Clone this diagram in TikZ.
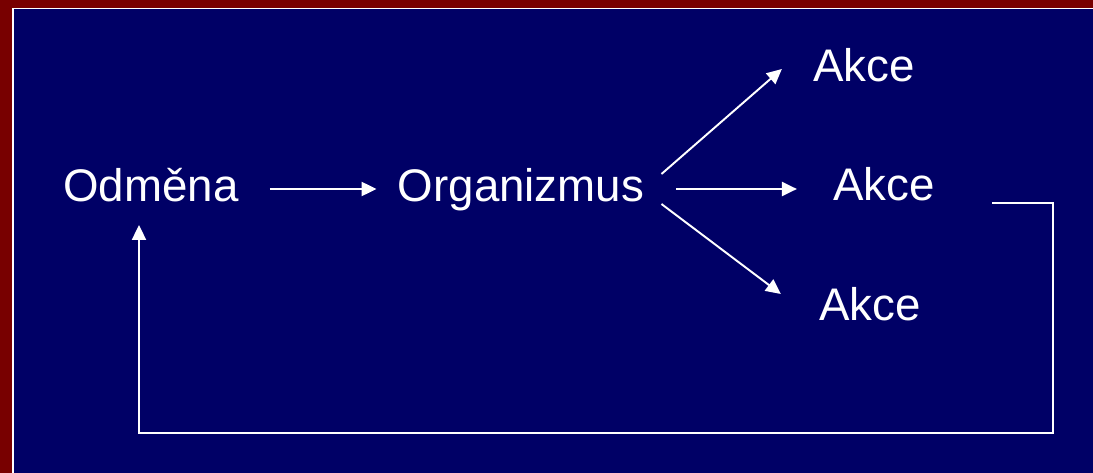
\documentclass[tikz,border=0pt]{standalone}
\usepackage{fontspec}
\setmainfont{Liberation Sans}
\usetikzlibrary{arrows.meta,calc}
\definecolor{slidered}{HTML}{780000}
\definecolor{slidenavy}{HTML}{000066}
\tikzset{
  word/.style={text=white,anchor=base,inner sep=0pt,font=\fontsize{26}{31}\selectfont},
  arr/.style={draw=white,line width=1.1pt,-{Triangle[length=8.5pt,width=8pt]}}
}
\begin{document}
\begin{tikzpicture}[x=0.02cm,y=-0.02cm]
        %%%%%%%%%% Sfondo %%%%%%%%%%
        \useasboundingbox (0,0) rectangle (1093,473);
        \fill[slidered] (0,0) rectangle (1093,473);
        \fill[white] (12.3,7.7) rectangle (1093,473);
        \fill[slidenavy] (14.3,9.5) rectangle (1093,473);

        %%%%%%%%%% Nodi %%%%%%%%%%
        \node[word] (odmena) at (151,202) {Odměna};
        \node[word] (organizmus) at (521,202) {Organizmus};
        \node[word] (akceA) at (864,82) {Akce};
        \node[word] (akceB) at (884,200) {Akce};
        \node[word] (akceC) at (870,320) {Akce};
        \coordinate (roh) at (1053,433);

        %%%%%%%%% Frecce %%%%%%%%%
        \draw[arr] ($(odmena.base east)+(31,-13)$) -- ($(organizmus.base west)+(-21,-13)$);
        \draw[arr] ($(organizmus.base east)+(17,-28)$) -- ($(akceA.base west)+(-31,-13)$);
        \draw[arr] ($(organizmus.base east)+(32,-13)$) -- ($(akceB.base west)+(-36,-11)$);
        \draw[arr] ($(organizmus.base east)+(17,2)$) -- ($(akceC.base west)+(-38,-26)$);
        \draw[arr] ($(akceB.base east)+(57,3)$) -| (roh) -| ($(odmena.base)+(-12,23)$);
    \end{tikzpicture}
\end{document}
